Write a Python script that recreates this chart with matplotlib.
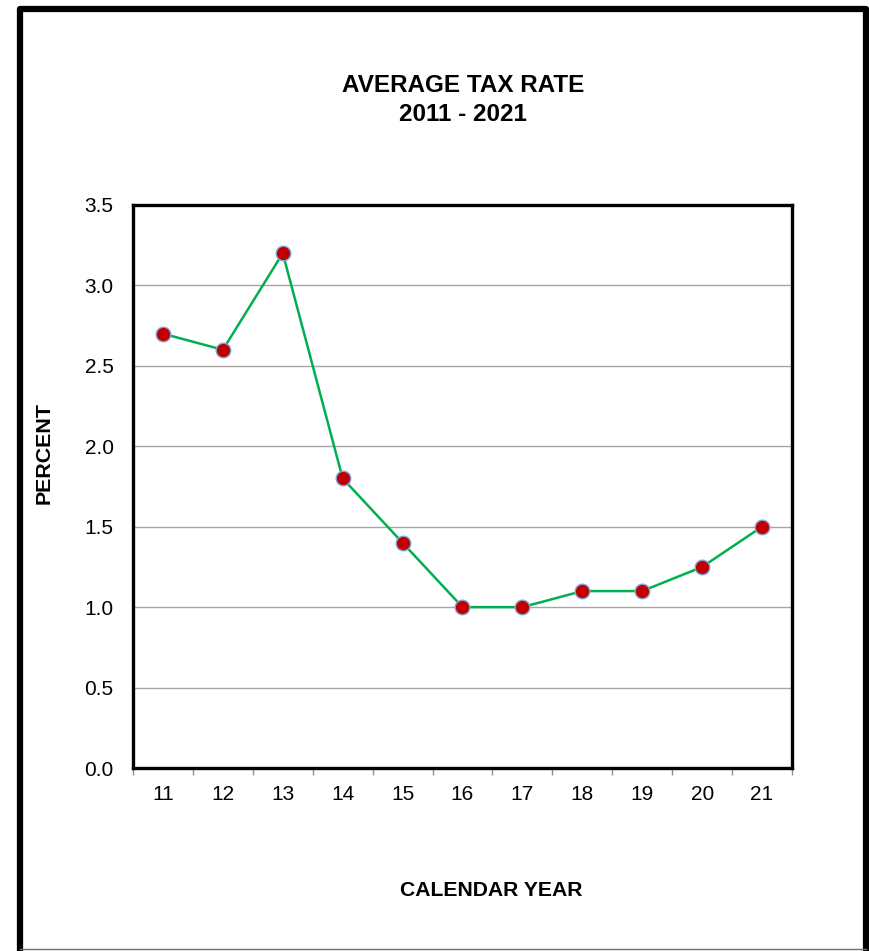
import matplotlib
matplotlib.use('Agg')
import matplotlib.pyplot as plt
from matplotlib.lines import Line2D
import numpy as np

# Average tax rate by calendar year (two-digit year labels)
years = ['11', '12', '13', '14', '15', '16', '17', '18', '19', '20', '21']
rates = [2.7, 2.6, 3.2, 1.8, 1.4, 1.0, 1.0, 1.1, 1.1, 1.25, 1.5]

plt.rcParams['font.family'] = ['Liberation Sans', 'DejaVu Sans']

W, H = 870, 951
fig = plt.figure(figsize=(W / 100, H / 100), dpi=100, facecolor='white')

# plot area in pixel terms -> figure fractions
left, right, top, bottom = 133, 792, 205, 768
ax = fig.add_axes([left / W, 1 - bottom / H, (right - left) / W, (bottom - top) / H])

x = np.arange(len(years))
ax.plot(x, rates, color='#00B050', linewidth=1.8, zorder=3,
        marker='o', markersize=10.5, markerfacecolor='#C00000',
        markeredgecolor='#7FA7DB', markeredgewidth=1.0)

ax.set_xlim(-0.5, len(years) - 0.5)
ax.set_ylim(0, 3.5)

# y axis: gridlines every 0.5, no tick marks
ax.set_yticks(np.arange(0, 3.51, 0.5))
ax.set_yticklabels([f'{v:.1f}' for v in np.arange(0, 3.51, 0.5)], fontsize=15)
ax.tick_params(axis='y', length=0, pad=14)
ax.grid(axis='y', color='#A6A6A6', linewidth=1.0)
ax.set_axisbelow(True)

# x axis: tick marks between categories, labels centred on categories
ax.set_xticks(np.arange(-0.5, len(years), 1.0))
ax.set_xticklabels([])
ax.tick_params(axis='x', which='major', length=5, width=1.0, color='#909090', direction='out')
ax.set_xticks(x, minor=True)
ax.set_xticklabels(years, minor=True, fontsize=15)
ax.tick_params(axis='x', which='minor', length=0, pad=12)

for s in ax.spines.values():
    s.set_linewidth(2.4)
    s.set_color('black')

# titles and axis labels
fig.text(463 / W, 1 - 100 / H, 'AVERAGE TAX RATE\n2011 - 2021', ha='center', va='center',
         fontsize=17.5, fontweight='bold', linespacing=1.3)
fig.text(491 / W, 1 - 890 / H, 'CALENDAR YEAR', ha='center', va='center',
         fontsize=15.2, fontweight='bold')
fig.text(44 / W, 1 - 453 / H, 'PERCENT', ha='center', va='center', rotation=90,
         fontsize=15.4, fontweight='bold')

# outer frame around the chart
fx0, fx1 = 20 / W, 866 / W
fy0, fy1 = 1 - 949 / H, 1 - 9 / H
fig.add_artist(Line2D([fx0, fx0, fx1, fx1], [fy0, fy1, fy1, fy0],
                      color='black', linewidth=4.5, solid_joinstyle='round'))
fig.add_artist(Line2D([fx0, fx1], [fy0, fy0], color='#707070', linewidth=1.0))

fig.savefig('out.png', dpi=100, facecolor='white')
